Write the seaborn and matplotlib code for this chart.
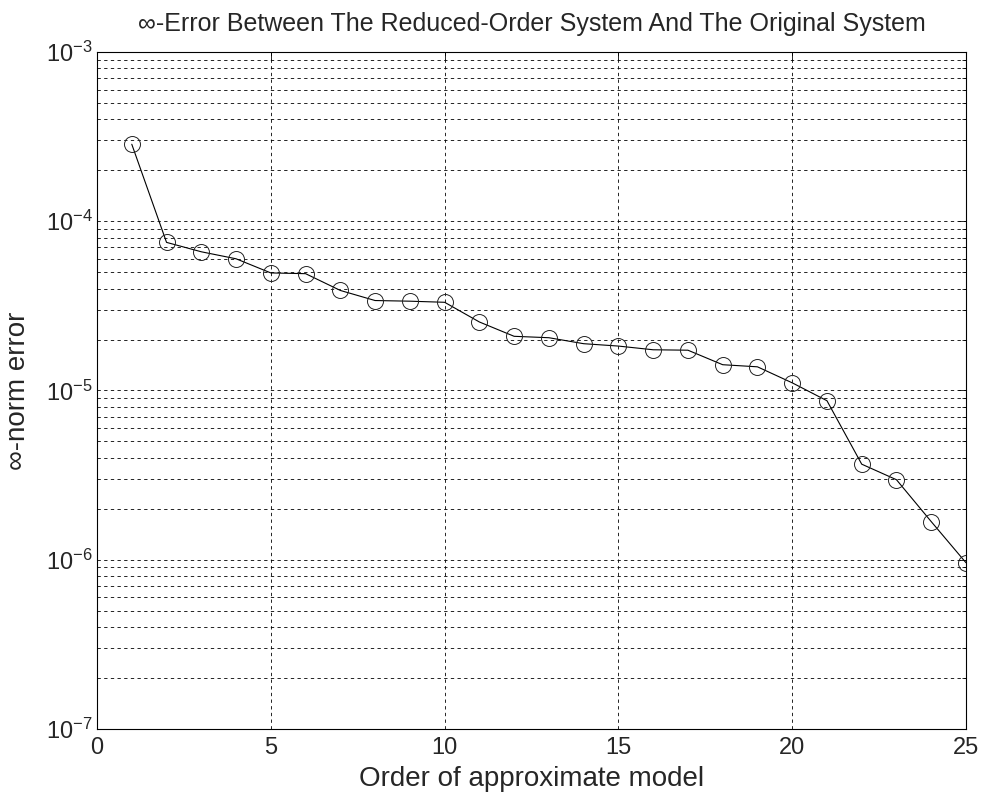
import matplotlib
matplotlib.use("Agg")
import matplotlib.pyplot as plt
import numpy as np
import pandas as pd
import seaborn as sns
from matplotlib.ticker import LogLocator, FixedLocator, NullLocator, NullFormatter, LogFormatterSciNotation

# ---- data ----
orders = list(range(1, 26))
errors = [2.85e-4, 7.5e-5, 6.6e-5, 6.0e-5, 4.95e-5, 4.9e-5, 3.9e-5, 3.4e-5,
          3.37e-5, 3.32e-5, 2.54e-5, 2.09e-5, 2.05e-5, 1.89e-5, 1.83e-5,
          1.74e-5, 1.73e-5, 1.42e-5, 1.38e-5, 1.11e-5, 8.7e-6, 3.67e-6,
          2.97e-6, 1.68e-6, 9.6e-7]
x_ticks = [0, 5, 10, 15, 20, 25]
y_ticks = [1e-7, 1e-6, 1e-5, 1e-4, 1e-3]
title_text = "\u221e-Error Between The Reduced-Order System And The Original System"
x_label = "Order of approximate model"
y_label = "\u221e-norm error"

df = pd.DataFrame({"order": orders, "error": errors})

sns.set_style("white")
plt.rcParams["font.family"] = ["Liberation Sans", "DejaVu Sans"]
plt.rcParams["mathtext.fontset"] = "custom"
plt.rcParams["mathtext.rm"] = "Liberation Sans"
plt.rcParams["mathtext.it"] = "Liberation Sans:italic"
plt.rcParams["mathtext.bf"] = "Liberation Sans:bold"
plt.rcParams["mathtext.default"] = "regular"

fig = plt.figure(figsize=(9.85, 8.01), dpi=100)
ax = fig.add_axes([0.0985, 0.0899, 0.8822, 0.8452])

sns.lineplot(data=df, x="order", y="error", ax=ax, color="black", linewidth=0.8,
             marker="o", markersize=11.5, markerfacecolor="none",
             markeredgecolor="#222222", markeredgewidth=0.7, errorbar=None)

ax.set_yscale("log")
ax.set_xlim(0, 25)
ax.set_ylim(1e-7, 1e-3)
ax.xaxis.set_major_locator(FixedLocator(x_ticks))
ax.xaxis.set_minor_locator(NullLocator())
ax.yaxis.set_major_locator(FixedLocator(y_ticks))
ax.yaxis.set_major_formatter(LogFormatterSciNotation())
ax.yaxis.set_minor_locator(LogLocator(base=10, subs=range(2, 10), numticks=20))
ax.yaxis.set_minor_formatter(NullFormatter())

grid_kw = dict(color="black", linestyle=(0, (4, 4)), linewidth=0.6)
ax.grid(True, which="major", axis="both", **grid_kw)
ax.grid(True, which="minor", axis="y", **grid_kw)

ax.tick_params(which="both", direction="in", top=True, right=True,
               color="black", width=0.6)
ax.tick_params(which="major", length=6, labelsize=17)
ax.tick_params(which="minor", length=3)
ax.tick_params(axis="x", which="major", pad=6)
ax.tick_params(axis="y", which="major", pad=3)
for s in ax.spines.values():
    s.set_color("black")
    s.set_linewidth(0.8)

ax.set_title(title_text, fontsize=18, pad=15)
ax.set_xlabel(x_label, fontsize=20, labelpad=5)
ax.set_ylabel(y_label, fontsize=20, labelpad=11)

fig.savefig("out.png", dpi=100)
